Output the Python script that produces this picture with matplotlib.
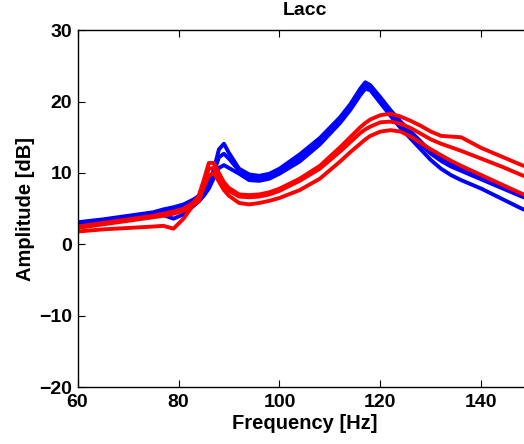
import matplotlib
matplotlib.use("Agg")
import matplotlib.pyplot as plt
import numpy as np

plt.rcParams['font.family'] = ['Liberation Sans', 'DejaVu Sans']
plt.rcParams['font.weight'] = 'bold'

# frequency grid [Hz]
freq = [60, 65, 70, 75, 77, 79, 81, 83, 84, 85, 86, 87, 88, 89, 90, 92, 94, 96, 98, 100,
        104, 108, 112, 114, 116, 117, 118, 120, 122, 124, 126, 128, 130, 132, 134, 136,
        140, 144, 148, 150]

# blue group [dB]
blue1 = [3.1, 3.5, 4.0, 4.5, 4.9, 5.2, 5.6, 6.3, 6.8, 7.4, 8.4, 10.5, 13.3, 14.1, 12.8, 10.6,
         9.8, 9.6, 9.9, 10.6, 12.6, 14.9, 17.8, 19.6, 21.8, 22.7, 22.3, 20.6, 18.8, 17.2,
         15.8, 14.4, 13.0, 12.0, 11.2, 10.6, 9.4, 8.2, 7.0, 6.5]
blue2 = [3.0, 3.4, 3.9, 4.4, 4.7, 5.0, 5.4, 6.0, 6.4, 7.0, 8.0, 10.0, 12.2, 12.7, 12.0, 10.3,
         9.4, 9.3, 9.6, 10.3, 12.1, 14.4, 17.4, 19.2, 21.3, 22.1, 21.9, 20.2, 18.4, 16.8,
         15.4, 14.0, 12.7, 11.7, 10.9, 10.3, 9.1, 7.9, 6.7, 6.2]
blue3 = [2.8, 3.2, 3.6, 4.0, 4.1, 3.6, 4.2, 5.4, 6.0, 6.8, 7.8, 9.3, 10.7, 11.1, 10.7, 9.9,
         9.0, 8.9, 9.2, 9.9, 11.6, 14.0, 17.0, 18.8, 20.9, 21.8, 21.6, 19.8, 18.0, 16.3,
         14.8, 13.3, 11.8, 10.6, 9.7, 9.0, 7.8, 6.4, 5.0, 4.4]

# red group [dB]
red1 = [2.5, 3.0, 3.5, 4.0, 4.3, 4.6, 5.0, 5.9, 6.8, 9.0, 11.4, 11.4, 10.0, 8.7, 7.9, 7.0,
        6.9, 7.0, 7.3, 7.8, 9.2, 11.0, 13.6, 15.0, 16.4, 17.0, 17.5, 18.1, 18.3, 17.9,
        17.3, 16.6, 15.8, 15.2, 15.1, 15.0, 13.5, 12.3, 11.1, 10.6]
red2 = [2.3, 2.8, 3.3, 3.8, 4.0, 4.3, 4.7, 5.6, 6.4, 8.5, 10.6, 10.7, 9.4, 8.2, 7.5, 6.7,
        6.6, 6.7, 7.0, 7.5, 8.9, 10.6, 13.0, 14.3, 15.6, 16.1, 16.5, 17.1, 17.2, 16.9,
        16.3, 15.5, 14.7, 14.1, 13.6, 13.1, 12.0, 10.9, 9.7, 9.2]
red3 = [1.8, 2.1, 2.3, 2.5, 2.6, 2.2, 3.6, 5.6, 6.0, 8.0, 9.6, 10.0, 8.8, 7.6, 6.8, 5.8,
        5.6, 5.8, 6.1, 6.5, 7.6, 9.2, 11.6, 12.9, 14.1, 14.7, 15.2, 15.8, 16.0, 15.8,
        15.1, 14.2, 13.3, 12.5, 11.7, 11.0, 9.7, 8.4, 7.1, 6.6]

fig = plt.figure(figsize=(5.24, 4.44), dpi=100)
ax = fig.add_axes([0.148, 0.128, 0.867, 0.804])

for y in [blue1, blue2, blue3]:
    ax.plot(freq, y, color=(0, 0, 1), linewidth=2.8)
for y in [red1, red2, red3]:
    ax.plot(freq, y, color=(1, 0, 0), linewidth=2.8)

ax.set_xlim(60, 150)
ax.set_ylim(-20, 30)
ax.set_xticks([60, 80, 100, 120, 140])
ax.set_yticks([-20, -10, 0, 10, 20, 30])
ax.set_yticklabels(['\u221220', '\u221210', '0', '10', '20', '30'])
ax.tick_params(direction='in', length=5, width=0.8, top=True, right=True,
               labelsize=14)
ax.tick_params(axis='x', pad=5)
ax.tick_params(axis='y', pad=4)
for s in ax.spines.values():
    s.set_linewidth(1.0)

ax.set_title('Lacc', fontsize=14, fontweight='bold', pad=11)
ax.set_xlabel('Frequency [Hz]', fontsize=14.5, fontweight='bold', labelpad=2)
ax.set_ylabel('Amplitude [dB]', fontsize=14.5, fontweight='bold', labelpad=3)

fig.savefig('out.png', dpi=100)
